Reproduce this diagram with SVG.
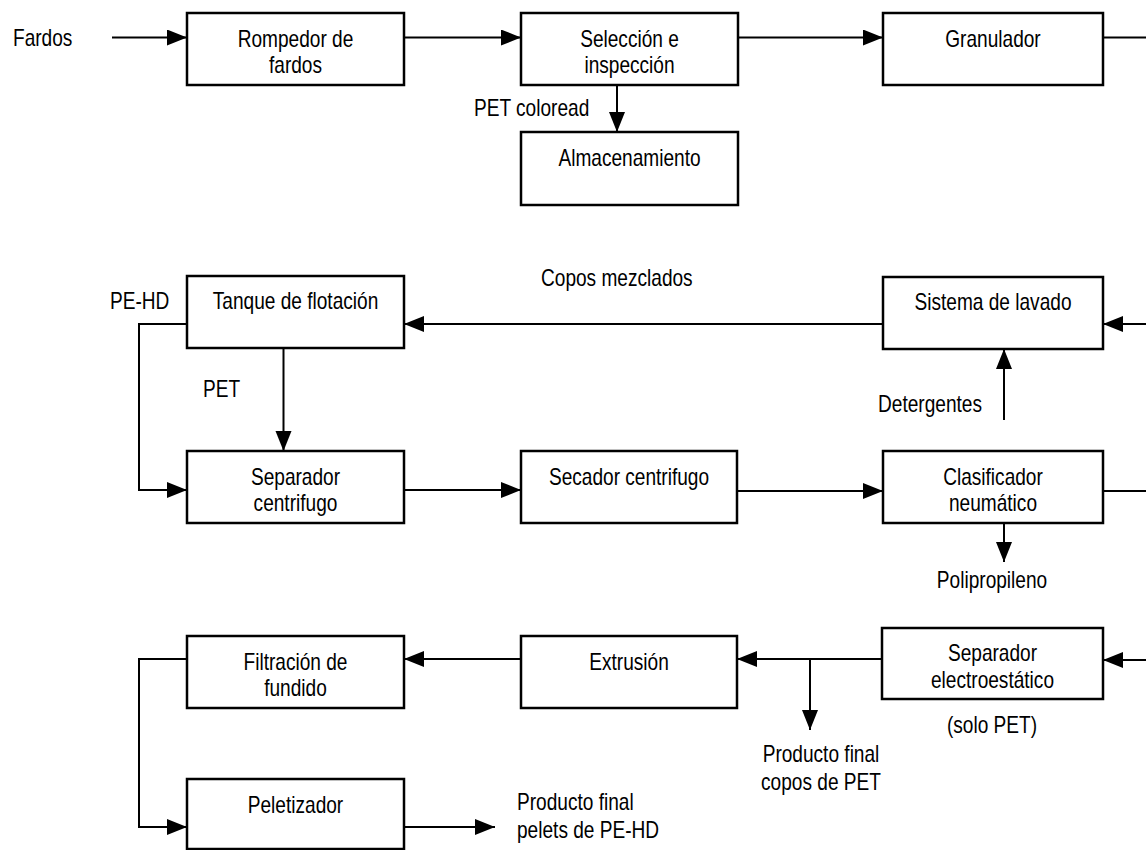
<svg xmlns="http://www.w3.org/2000/svg" width="1146" height="850" viewBox="0 0 1146 850">
<style>
.box{fill:#fff;stroke:#000;stroke-width:2.5}
.ln{fill:none;stroke:#000;stroke-width:2}
text{font-family:"Liberation Sans",Arial,sans-serif;font-size:23px;fill:#000}
.c{text-anchor:middle}
</style>
<defs>
<marker id="ah" markerUnits="userSpaceOnUse" markerWidth="22" markerHeight="18" refX="20" refY="8" orient="auto">
<path d="M0,0 L20,8 L0,16 z" fill="#000"/>
</marker>
</defs>
<rect width="1146" height="850" fill="#fff"/>
<g id="connectors">
<path class="ln" d="M112,37.5 H187" marker-end="url(#ah)"/>
<path class="ln" d="M404,37.5 H521" marker-end="url(#ah)"/>
<path class="ln" d="M738,37.5 H883" marker-end="url(#ah)"/>
<path class="ln" d="M1103,37.5 H1146"/>
<path class="ln" d="M617,85 V132" marker-end="url(#ah)"/>
<path class="ln" d="M1146,324 H1103" marker-end="url(#ah)"/>
<path class="ln" d="M883,324 H404" marker-end="url(#ah)"/>
<path class="ln" d="M1004,420 V349" marker-end="url(#ah)"/>
<path class="ln" d="M187,324 H139 V490 H187" marker-end="url(#ah)"/>
<path class="ln" d="M283.5,348 V451" marker-end="url(#ah)"/>
<path class="ln" d="M404,490 H521" marker-end="url(#ah)"/>
<path class="ln" d="M737,491 H883" marker-end="url(#ah)"/>
<path class="ln" d="M1103,491 H1146"/>
<path class="ln" d="M1004,523 V562" marker-end="url(#ah)"/>
<path class="ln" d="M1146,660 H1103" marker-end="url(#ah)"/>
<path class="ln" d="M882,659 H737" marker-end="url(#ah)"/>
<path class="ln" d="M810,659 V730" marker-end="url(#ah)"/>
<path class="ln" d="M521,659 H404" marker-end="url(#ah)"/>
<path class="ln" d="M187,659 H139 V827 H187" marker-end="url(#ah)"/>
<path class="ln" d="M404,827 H495" marker-end="url(#ah)"/>
</g>
<g id="labels">
<text transform="translate(13,46) scale(0.83,1)">Fardos</text>
<text transform="translate(474,116) scale(0.83,1)">PET coloread</text>
<text transform="translate(541,286) scale(0.83,1)">Copos mezclados</text>
<text transform="translate(110,309) scale(0.83,1)">PE-HD</text>
<text transform="translate(203,397) scale(0.83,1)">PET</text>
<text transform="translate(878,412) scale(0.83,1)">Detergentes</text>
<text class="c" transform="translate(992,588) scale(0.83,1)">Polipropileno</text>
<text class="c" transform="translate(992,733) scale(0.83,1)">(solo PET)</text>
<text class="c" transform="translate(821,762) scale(0.83,1)">Producto final</text>
<text class="c" transform="translate(821,790) scale(0.83,1)">copos de PET</text>
<text transform="translate(517,810) scale(0.83,1)">Producto final</text>
<text transform="translate(517,838) scale(0.83,1)">pelets de PE-HD</text>
</g>
<g id="rompedor"><rect class="box" x="187" y="13" width="217" height="72"/><text class="c" transform="translate(295.5,46.5) scale(0.83,1)">Rompedor de</text><text class="c" transform="translate(295.5,73) scale(0.83,1)">fardos</text></g>
<g id="seleccion"><rect class="box" x="521" y="13" width="217" height="72"/><text class="c" transform="translate(629.5,46.5) scale(0.83,1)">Selección e</text><text class="c" transform="translate(629.5,73) scale(0.83,1)">inspección</text></g>
<g id="granulador"><rect class="box" x="883" y="13" width="220" height="72"/><text class="c" transform="translate(993,46.5) scale(0.83,1)">Granulador</text></g>
<g id="almacenamiento"><rect class="box" x="521" y="132" width="217" height="73"/><text class="c" transform="translate(629.5,165.5) scale(0.83,1)">Almacenamiento</text></g>
<g id="tanque"><rect class="box" x="187" y="276" width="217" height="72"/><text class="c" transform="translate(295.5,309) scale(0.83,1)">Tanque de flotación</text></g>
<g id="lavado"><rect class="box" x="883" y="277" width="220" height="72"/><text class="c" transform="translate(993,310) scale(0.83,1)">Sistema de lavado</text></g>
<g id="sep-centrifugo"><rect class="box" x="187" y="451" width="217" height="72"/><text class="c" transform="translate(295.5,484.5) scale(0.83,1)">Separador</text><text class="c" transform="translate(295.5,511) scale(0.83,1)">centrifugo</text></g>
<g id="secador"><rect class="box" x="521" y="451" width="216" height="72"/><text class="c" transform="translate(629,484.5) scale(0.83,1)">Secador centrifugo</text></g>
<g id="clasificador"><rect class="box" x="883" y="451" width="220" height="72"/><text class="c" transform="translate(993,484.5) scale(0.83,1)">Clasificador</text><text class="c" transform="translate(993,511) scale(0.83,1)">neumático</text></g>
<g id="filtracion"><rect class="box" x="187" y="636" width="217" height="72"/><text class="c" transform="translate(295.5,669.5) scale(0.83,1)">Filtración de</text><text class="c" transform="translate(295.5,696) scale(0.83,1)">fundido</text></g>
<g id="extrusion"><rect class="box" x="521" y="636" width="216" height="72"/><text class="c" transform="translate(629,669.5) scale(0.83,1)">Extrusión</text></g>
<g id="sep-electro"><rect class="box" x="882" y="628" width="221" height="71"/><text class="c" transform="translate(992.5,661) scale(0.83,1)">Separador</text><text class="c" transform="translate(992.5,688) scale(0.83,1)">electroestático</text></g>
<g id="peletizador"><rect class="box" x="187" y="779" width="217" height="70"/><text class="c" transform="translate(295.5,812.5) scale(0.83,1)">Peletizador</text></g>
</svg>
